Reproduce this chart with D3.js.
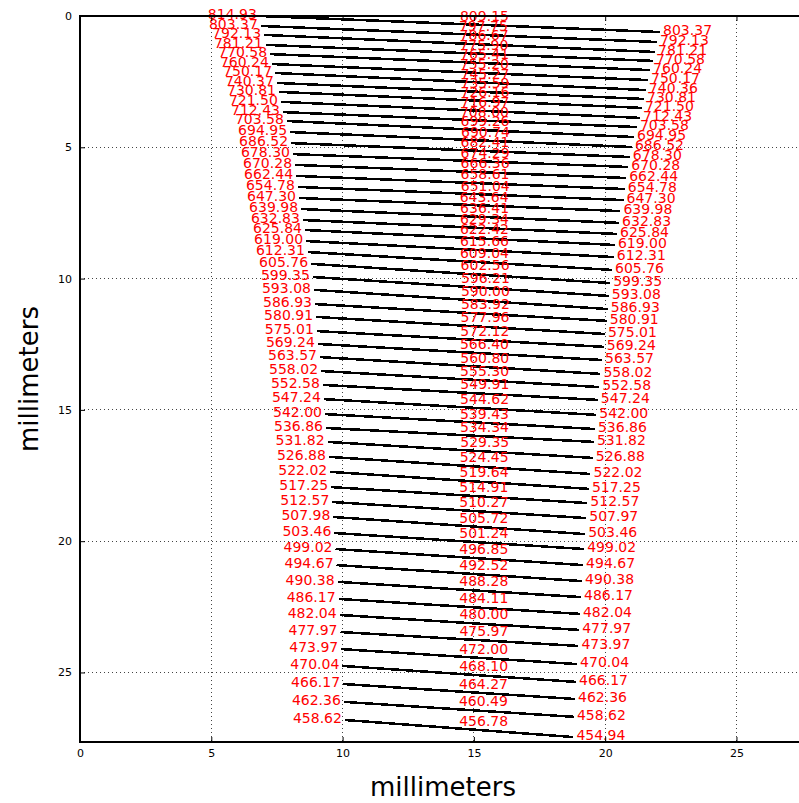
<!DOCTYPE html>
<html>
<head>
<meta charset="utf-8">
<script src="https://cdnjs.cloudflare.com/ajax/libs/d3/7.8.5/d3.min.js"></script>
<style>
body { margin: 0; background: #fff; }
svg { display: block; font-family: "DejaVu Sans", sans-serif; }
</style>
</head>
<body>
<script>
// wavelength at left end, middle and right end of each order (nm)
var leftWl = [814.93, 803.37, 792.13, 781.21, 770.58, 760.24, 750.17, 740.37, 730.81, 721.50,
  712.43, 703.58, 694.95, 686.52, 678.30, 670.28, 662.44, 654.78, 647.30, 639.98,
  632.83, 625.84, 619.00, 612.31, 605.76, 599.35, 593.08, 586.93, 580.91, 575.01,
  569.24, 563.57, 558.02, 552.58, 547.24, 542.00, 536.86, 531.82, 526.88, 522.02,
  517.25, 512.57, 507.98, 503.46, 499.02, 494.67, 490.38, 486.17, 482.04, 477.97,
  473.97, 470.04, 466.17, 462.36, 458.62];
var midWl = [809.15, 797.75, 786.67, 775.90, 765.41, 755.20, 745.27, 735.59, 726.16, 716.97,
  708.00, 699.26, 690.74, 682.41, 674.29, 666.36, 658.61, 651.04, 643.64, 636.41,
  629.34, 622.42, 615.66, 609.04, 602.56, 596.21, 590.00, 583.92, 577.96, 572.12,
  566.40, 560.80, 555.30, 549.91, 544.62, 539.43, 534.34, 529.35, 524.45, 519.64,
  514.91, 510.27, 505.72, 501.24, 496.85, 492.52, 488.28, 484.11, 480.00, 475.97,
  472.00, 468.10, 464.27, 460.49, 456.78];
var rightWl = [803.37, 792.13, 781.21, 770.58, 760.24, 750.17, 740.36, 730.81, 721.50, 712.43,
  703.58, 694.95, 686.52, 678.30, 670.28, 662.44, 654.78, 647.30, 639.98, 632.83,
  625.84, 619.00, 612.31, 605.76, 599.35, 593.08, 586.93, 580.91, 575.01, 569.24,
  563.57, 558.02, 552.58, 547.24, 542.00, 536.86, 531.82, 526.88, 522.02, 517.25,
  512.57, 507.97, 503.46, 499.02, 494.67, 490.38, 486.17, 482.04, 477.97, 473.97,
  470.04, 466.17, 462.36, 458.62, 454.94];

// order end points on the detector (mm)
var xLeft = [6.85, 6.89, 7.01, 7.08, 7.24, 7.31, 7.43, 7.50, 7.58, 7.65,
  7.73, 7.88, 8.00, 8.04, 8.11, 8.19, 8.23, 8.30, 8.34, 8.42,
  8.49, 8.57, 8.61, 8.68, 8.80, 8.87, 8.91, 8.95, 8.99, 9.02,
  9.06, 9.14, 9.18, 9.25, 9.29, 9.33, 9.37, 9.43, 9.48, 9.53,
  9.57, 9.61, 9.65, 9.69, 9.73, 9.77, 9.81, 9.85, 9.89, 9.92,
  9.95, 9.99, 10.02, 10.05, 10.09];
var xRight = [22.09, 21.97, 21.90, 21.82, 21.71, 21.63, 21.55, 21.48, 21.40, 21.33,
  21.21, 21.10, 21.02, 20.94, 20.88, 20.80, 20.75, 20.70, 20.58, 20.53,
  20.45, 20.37, 20.33, 20.26, 20.19, 20.14, 20.10, 20.06, 19.99, 19.95,
  19.88, 19.82, 19.77, 19.72, 19.66, 19.61, 19.57, 19.53, 19.44, 19.38,
  19.32, 19.28, 19.24, 19.20, 19.16, 19.12, 19.08, 19.04, 19.01, 18.98,
  18.93, 18.89, 18.85, 18.81, 18.79];
var yLeft = [0.00, 0.38, 0.72, 1.10, 1.45, 1.83, 2.17, 2.55, 2.89, 3.27,
  3.66, 4.00, 4.42, 4.84, 5.26, 5.67, 6.09, 6.51, 6.93, 7.35,
  7.77, 8.15, 8.57, 8.99, 9.44, 9.94, 10.43, 10.97, 11.46, 12.00,
  12.49, 12.99, 13.52, 14.05, 14.59, 15.16, 15.69, 16.22, 16.79, 17.36,
  17.94, 18.51, 19.08, 19.69, 20.30, 20.91, 21.55, 22.20, 22.81, 23.46,
  24.11, 24.75, 25.44, 26.12, 26.81];
var yRight = [0.61, 0.99, 1.37, 1.71, 2.06, 2.44, 2.82, 3.16, 3.50, 3.88,
  4.23, 4.61, 4.99, 5.37, 5.75, 6.17, 6.59, 7.01, 7.43, 7.88,
  8.30, 8.72, 9.18, 9.67, 10.17, 10.66, 11.16, 11.61, 12.11, 12.60,
  13.10, 13.63, 14.13, 14.62, 15.19, 15.73, 16.22, 16.83, 17.44, 18.01,
  18.55, 19.12, 19.73, 20.30, 20.91, 21.52, 22.13, 22.77, 23.38, 23.99,
  24.68, 25.36, 26.01, 26.69, 27.46];

var xTicks = [0, 5, 10, 15, 20, 25];
var yTicks = [0, 5, 10, 15, 20, 25];
var detSize = 27.648;

var svgWidth = 799, svgHeight = 803;
var margin = {top: 16, left: 80};
var w = 726, h = 726;

var svg = d3.select("body").append("svg")
  .attr("width", svgWidth)
  .attr("height", svgHeight);

var xScale = d3.scaleLinear().domain([0, detSize]).range([margin.left, margin.left + w]);
var yScale = d3.scaleLinear().domain([0, detSize]).range([margin.top, margin.top + h]);

svg.append("defs").append("clipPath").attr("id", "plotClip")
  .append("rect")
  .attr("x", margin.left).attr("y", margin.top)
  .attr("width", w).attr("height", h);

// dotted grid
var grid = svg.append("g").attr("class", "grid");
grid.selectAll("line.gx").data(xTicks).enter().append("line")
  .attr("x1", function(d){ return xScale(d); })
  .attr("x2", function(d){ return xScale(d); })
  .attr("y1", margin.top).attr("y2", margin.top + h);
grid.selectAll("line.gy").data(yTicks).enter().append("line")
  .attr("y1", function(d){ return yScale(d); })
  .attr("y2", function(d){ return yScale(d); })
  .attr("x1", margin.left).attr("x2", margin.left + w);
grid.selectAll("line")
  .attr("stroke", "#444")
  .attr("stroke-width", 1)
  .attr("stroke-dasharray", "1,3")
  .attr("shape-rendering", "crispEdges");

// orders
var idx = d3.range(leftWl.length);
svg.append("g").attr("clip-path", "url(#plotClip)")
  .selectAll("line").data(idx).enter().append("line")
  .attr("x1", function(i){ return xScale(xLeft[i]); })
  .attr("y1", function(i){ return yScale(yLeft[i]); })
  .attr("x2", function(i){ return xScale(xRight[i]); })
  .attr("y2", function(i){ return yScale(yRight[i]); })
  .attr("stroke", "#000")
  .attr("stroke-width", 2.5)
  .attr("shape-rendering", "crispEdges");

// wavelength labels
var labels = svg.append("g")
  .attr("fill", "#ff0000")
  .attr("font-size", "14px");

labels.selectAll("text.left").data(idx).enter().append("text")
  .attr("text-anchor", "end")
  .attr("x", function(i){ return xScale(xLeft[i]) - 3; })
  .attr("y", function(i){ return yScale(yLeft[i]) + 3; })
  .text(function(i){ return leftWl[i].toFixed(2); });

labels.selectAll("text.mid").data(idx).enter().append("text")
  .attr("text-anchor", "start")
  .attr("x", function(i){ return xScale((xLeft[i] + xRight[i]) / 2); })
  .attr("y", function(i){ return yScale((yLeft[i] + yRight[i]) / 2) - 3; })
  .text(function(i){ return midWl[i].toFixed(2); });

labels.selectAll("text.right").data(idx).enter().append("text")
  .attr("text-anchor", "start")
  .attr("x", function(i){ return xScale(xRight[i]) + 3; })
  .attr("y", function(i){ return yScale(yRight[i]) + 3; })
  .text(function(i){ return rightWl[i].toFixed(2); });

// axes, ticks pointing inward like the classic matplotlib style
function styleAxis(g) {
  g.select(".domain").remove();
  g.selectAll(".tick line").attr("stroke", "#000").attr("stroke-width", 1);
  g.selectAll(".tick text").attr("font-size", "11px").attr("fill", "#000")
    .attr("font-family", "DejaVu Sans, sans-serif");
}

svg.append("g")
  .attr("transform", "translate(0," + (margin.top + h) + ")")
  .call(d3.axisBottom(xScale).tickValues(xTicks).tickSizeInner(-5).tickSizeOuter(0).tickPadding(7))
  .call(styleAxis);
svg.append("g")
  .attr("transform", "translate(0," + margin.top + ")")
  .call(d3.axisTop(xScale).tickValues(xTicks).tickSizeInner(-5).tickSizeOuter(0).tickFormat(""))
  .call(styleAxis);
svg.append("g")
  .attr("transform", "translate(" + margin.left + ",0)")
  .call(d3.axisLeft(yScale).tickValues(yTicks).tickSizeInner(-5).tickSizeOuter(0).tickPadding(8))
  .call(styleAxis);
svg.append("g")
  .attr("transform", "translate(" + (margin.left + w) + ",0)")
  .call(d3.axisRight(yScale).tickValues(yTicks).tickSizeInner(-5).tickSizeOuter(0).tickFormat(""))
  .call(styleAxis);

// frame
svg.append("rect")
  .attr("x", margin.left).attr("y", margin.top)
  .attr("width", w).attr("height", h)
  .attr("fill", "none")
  .attr("stroke", "#000")
  .attr("stroke-width", 2)
  .attr("shape-rendering", "crispEdges");

// axis titles
svg.append("text")
  .attr("x", margin.left + w / 2)
  .attr("y", 796)
  .attr("text-anchor", "middle")
  .attr("font-size", "26px")
  .text("millimeters");

svg.append("text")
  .attr("transform", "translate(38," + (margin.top + h / 2) + ") rotate(-90)")
  .attr("text-anchor", "middle")
  .attr("font-size", "26px")
  .text("millimeters");
</script>
</body>
</html>
